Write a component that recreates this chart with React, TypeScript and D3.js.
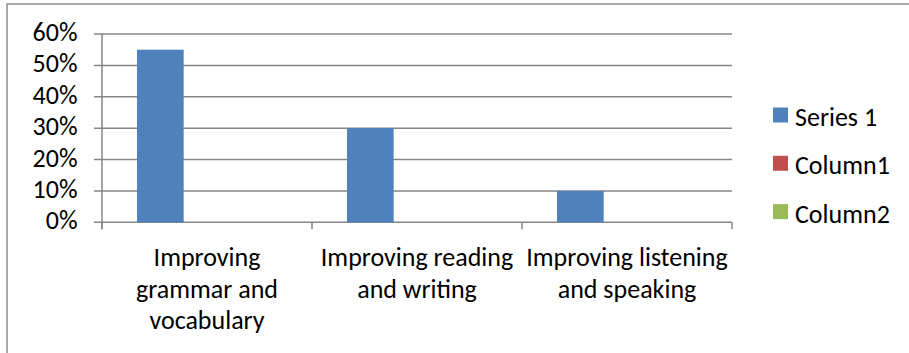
import React from "react";
import * as d3 from "d3";

const categories = [
  ["Improving", "grammar and", "vocabulary"],
  ["Improving reading", "and writing"],
  ["Improving listening", "and speaking"],
];
const seriesNames = ["Series 1", "Column1", "Column2"];
const series1 = [0.55, 0.3, 0.1];
const column1 = [0, 0, 0];
const column2 = [0, 0, 0];
const yTicks = [0, 0.1, 0.2, 0.3, 0.4, 0.5, 0.6];
const colors = ["#4F81BD", "#C0504D", "#9BBB59"];

const W = 909;
const H = 353;
const font = "Carlito, Calibri, Lato, sans-serif";

export default function App() {
  const left = 102;
  const right = 732;
  const top = 34;
  const bottom = 222.3;

  const x = d3.scaleBand<number>().domain(d3.range(categories.length)).range([left, right]);
  const y = d3.scaleLinear().domain([0, 0.6]).range([bottom, top]);
  const inner = d3
    .scaleBand<number>()
    .domain(d3.range(seriesNames.length))
    .range([0, x.bandwidth()])
    .paddingOuter(0.75)
    .paddingInner(0);
  const allSeries = [series1, column1, column2];

  return (
    <svg
      width={W}
      height={H}
      style={{ position: "absolute", left: 0, top: 0, background: "#fff" }}
    >
      <rect x={7} y={4} width={W + 10} height={H + 10} fill="#fff" stroke="#8c8c8c" strokeWidth={1.5} />
      {yTicks.map((t) => (
        <g key={t}>
          <line x1={94} x2={right} y1={y(t)} y2={y(t)} stroke="#868686" strokeWidth={1.5} />
          <text
            x={77.5}
            y={y(t) + 7}
            textAnchor="end"
            fontFamily={font}
            fontSize={26}
            fill="#000"
          >
            {d3.format(".0%")(t)}
          </text>
        </g>
      ))}
      <line x1={left} x2={left} y1={top} y2={bottom + 7} stroke="#868686" strokeWidth={1.5} />
      {d3.range(categories.length + 1).map((i) => {
        const xp = i < categories.length ? x(i)! : right;
        return <line key={i} x1={xp} x2={xp} y1={bottom} y2={bottom + 7} stroke="#868686" strokeWidth={1.5} />;
      })}
      {allSeries.map((vals, s) =>
        vals.map((v, i) => (
          <rect
            key={`${s}-${i}`}
            x={x(i)! + inner(s)!}
            y={y(v)}
            width={inner.bandwidth()}
            height={bottom - y(v)}
            fill={colors[s]}
          />
        ))
      )}
      {categories.map((lines, i) => (
        <text
          key={i}
          textAnchor="middle"
          fontFamily={font}
          fontSize={26}
          fill="#000"
        >
          {lines.map((l, j) => (
            <tspan key={j} x={x(i)! + x.bandwidth() / 2} y={266 + j * 31.5}>
              {l}
            </tspan>
          ))}
        </text>
      ))}
      {seriesNames.map((n, s) => (
        <g key={n} transform={`translate(773, ${107.5 + s * 48.3})`}>
          <rect width={15} height={15} fill={colors[s]} />
          <text x={22} y={18.5} fontFamily={font} fontSize={26} fill="#000">
            {n}
          </text>
        </g>
      ))}
    </svg>
  );
}
